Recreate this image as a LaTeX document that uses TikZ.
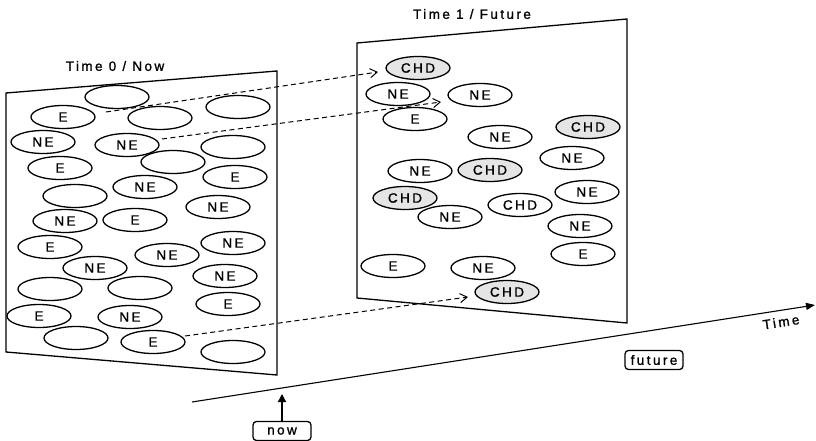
\documentclass[tikz,border=0pt]{standalone}
\usepackage{fontspec}
\setmainfont{Liberation Sans}[LetterSpace=18,FakeBold=1.2]
\usetikzlibrary{shapes.geometric,arrows.meta}
\begin{document}
\begin{tikzpicture}[x=1pt,y=-1pt,
  cell/.style={ellipse,draw,line width=1.3pt,minimum width=64pt,minimum height=23pt,inner sep=0pt,font=\fontsize{13.5}{15}\selectfont},
  chd/.style={cell,fill=black!10},
  panel/.style={draw,line width=1.3pt},
  title/.style={font=\fontsize{13.5}{15}\selectfont},
  tag/.style={draw,line width=1.3pt,rounded corners=3.5pt,minimum width=58pt,minimum height=19pt,inner sep=1pt,font=\fontsize{13.5}{15}\selectfont},
  move/.style={dashed,dash pattern=on 5pt off 3.5pt,line width=1pt,-{Straight Barb[length=7pt,width=9pt]}}]
\useasboundingbox (0,0) rectangle (816,441);
% panels
\draw[panel] (6,93) -- (277,71) -- (277,375) -- (6,352) -- cycle;
\draw[panel] (357,43) -- (627,19) -- (627,323) -- (357,298) -- cycle;
\node[title] (t0) at (115,66) {Time 0 / Now};
\node[title] (t1) at (472,14) {Time 1 / Future};
% left panel cells
\node[cell] (a1) at (117,97) {};
\node[cell] (a2) at (63,117) {E};
\node[cell] (a3) at (160,118) {};
\node[cell] (a4) at (238,107) {};
\node[cell] (a5) at (43,142) {NE};
\node[cell] (a6) at (127,145) {NE};
\node[cell] (a7) at (173,162) {};
\node[cell] (a8) at (233,147) {};
\node[cell] (a9) at (60,168) {E};
\node[cell] (a10) at (145,187) {NE};
\node[cell] (a11) at (235,177) {E};
\node[cell] (a12) at (75,196) {};
\node[cell] (a13) at (65,221) {NE};
\node[cell] (a14) at (135,220) {E};
\node[cell] (a15) at (218,207) {NE};
\node[cell] (a16) at (233,243) {NE};
\node[cell] (a17) at (50,247) {E};
\node[cell] (a18) at (95,268) {NE};
\node[cell] (a19) at (167,255) {NE};
\node[cell] (a20) at (225,276) {NE};
\node[cell] (a21) at (50,289) {};
\node[cell] (a22) at (140,288) {};
\node[cell] (a23) at (228,304) {E};
\node[cell] (a24) at (39,316) {E};
\node[cell] (a25) at (130,317) {NE};
\node[cell] (a26) at (76,338) {};
\node[cell] (a27) at (153,342) {E};
\node[cell] (a28) at (233,352) {};
% right panel cells
\node[chd] (b1) at (418,68) {CHD};
\node[cell] (b2) at (398,94) {NE};
\node[cell] (b3) at (480,95) {NE};
\node[cell] (b4) at (415,119) {E};
\node[cell] (b5) at (500,137) {NE};
\node[chd] (b6) at (588,127) {CHD};
\node[cell] (b7) at (572,158) {NE};
\node[cell] (b8) at (420,171) {NE};
\node[chd] (b9) at (490,170) {CHD};
\node[chd] (b10) at (405,198) {CHD};
\node[cell] (b11) at (450,217) {NE};
\node[cell] (b12) at (520,205) {CHD};
\node[cell] (b13) at (587,192) {NE};
\node[cell] (b14) at (580,226) {NE};
\node[cell] (b15) at (583,254) {E};
\node[cell] (b16) at (393,266) {E};
\node[cell] (b17) at (483,268) {NE};
\node[chd] (b18) at (507,292) {CHD};
% dashed moves
\coordinate (s1) at (106,112);
\coordinate (e1) at (378,72);
\coordinate (s2) at (162,139);
\coordinate (e2) at (441,102);
\coordinate (s3) at (185,336);
\coordinate (e3) at (468,297);
\draw[move] (s1) -- (e1);
\draw[move] (s2) -- (e2);
\draw[move] (s3) -- (e3);
% time axis
\coordinate (ax0) at (192,402);
\coordinate (ax1) at (815,305);
\draw[line width=1.1pt,-{Triangle[length=9pt,width=7pt]}] (ax0) -- (ax1);
\node[title,rotate=8.8] (tl) at (781,322) {Time};
\node[tag] (fut) at (654,360) {future};
\node[tag] (now) at (282,431) {now};
\coordinate (nowtip) at (282,394);
\draw[line width=1.3pt,-{Triangle[length=8pt,width=8pt]}] (now.north) -- (nowtip);
\end{tikzpicture}
\end{document}
